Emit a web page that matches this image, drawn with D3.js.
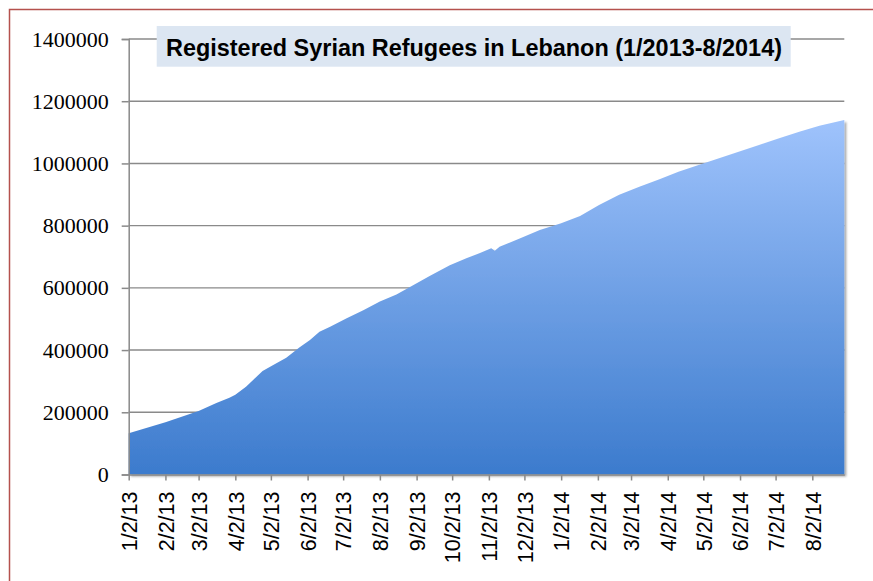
<!DOCTYPE html>
<html>
<head>
<meta charset="utf-8">
<script src="https://cdn.jsdelivr.net/npm/d3@7"></script>
<style>
  html, body { margin: 0; padding: 0; background: #ffffff; }
  svg { display: block; }
</style>
</head>
<body>
<svg id="chart" width="873" height="581"></svg>
<script>
// ---- Data ----
const title = "Registered Syrian Refugees in Lebanon (1/2013-8/2014)";

const dates = [
  "2013-01-02","2013-02-02","2013-03-02","2013-03-17","2013-03-28","2013-04-02",
  "2013-04-11","2013-04-17","2013-04-25","2013-05-04","2013-05-15","2013-05-26",
  "2013-06-04","2013-06-12","2013-06-21","2013-07-05","2013-07-19","2013-08-02",
  "2013-08-16","2013-08-27","2013-09-13","2013-09-30","2013-10-14","2013-10-25",
  "2013-11-04","2013-11-07","2013-11-11","2013-11-28","2013-12-15","2014-01-02",
  "2014-01-18","2014-02-03","2014-02-20","2014-03-09","2014-03-26","2014-04-11",
  "2014-04-28","2014-05-07","2014-05-28","2014-06-18","2014-07-05","2014-07-22",
  "2014-08-08","2014-08-29"
];

const refugees = [
  133000,168000,204000,230000,247000,256000,
  282000,304000,333000,352000,375000,408000,
  432000,459000,475000,502000,528000,556000,
  579000,602000,638000,673000,695000,711000,
  727000,719000,732000,759000,786000,808000,
  831000,866000,899000,925000,949000,973000,
  995000,1006000,1033000,1059000,1081000,1102000,
  1121000,1140000
];

const yTicks = [0, 200000, 400000, 600000, 800000, 1000000, 1200000, 1400000];

const xTickLabels = [
  "1/2/13","2/2/13","3/2/13","4/2/13","5/2/13","6/2/13","7/2/13","8/2/13",
  "9/2/13","10/2/13","11/2/13","12/2/13","1/2/14","2/2/14","3/2/14","4/2/14",
  "5/2/14","6/2/14","7/2/14","8/2/14"
];

// ---- Drawing ----
const parseISO = d3.timeParse("%Y-%m-%d");
const parseLabel = d3.timeParse("%m/%d/%y");
const data = dates.map((d, i) => ({ date: parseISO(d), value: refugees[i] }));
const tickDates = xTickLabels.map(parseLabel);

const svg = d3.select("#chart");

const plot = { left: 128.7, right: 844.3, top: 39, bottom: 474.5 };

const x = d3.scaleTime()
  .domain([data[0].date, data[data.length - 1].date])
  .range([plot.left, plot.right]);

const y = d3.scaleLinear()
  .domain([0, 1400000])
  .range([plot.bottom, plot.top]);

// outer frame (only top and left edges fall inside the picture)
svg.append("rect")
  .attr("x", 9.5).attr("y", 9.5)
  .attr("width", 900).attr("height", 600)
  .attr("fill", "none")
  .attr("stroke", "#b5514d")
  .attr("stroke-width", 1.5);

const defs = svg.append("defs");
const grad = defs.append("linearGradient")
  .attr("id", "areaGrad")
  .attr("gradientUnits", "userSpaceOnUse")
  .attr("x1", 0).attr("x2", 0)
  .attr("y1", y(0)).attr("y2", y(d3.max(refugees)));
grad.append("stop").attr("offset", "0%").attr("stop-color", "#3c7bcd");
grad.append("stop").attr("offset", "100%").attr("stop-color", "#9fc3fc");

const shadow = defs.append("filter").attr("id", "shadow")
  .attr("x", "-5%").attr("y", "-5%").attr("width", "110%").attr("height", "110%");
shadow.append("feDropShadow")
  .attr("dx", 2).attr("dy", 2).attr("stdDeviation", 1.2)
  .attr("flood-color", "#000").attr("flood-opacity", 0.35);

// gridlines
svg.append("g")
  .selectAll("line")
  .data(yTicks.filter(t => t > 0))
  .join("line")
  .attr("x1", plot.left).attr("x2", plot.right)
  .attr("y1", d => y(d)).attr("y2", d => y(d))
  .attr("stroke", "#8a8a8a")
  .attr("stroke-width", 1.4);

// area
const area = d3.area()
  .x(d => x(d.date))
  .y0(y(0))
  .y1(d => y(d.value));

svg.append("path")
  .datum(data)
  .attr("d", area)
  .attr("fill", "url(#areaGrad)")
  .attr("filter", "url(#shadow)");

// y axis
const yAxis = d3.axisLeft(y)
  .tickValues(yTicks)
  .tickFormat(d3.format("d"))
  .tickSize(7)
  .tickPadding(13);

const gy = svg.append("g")
  .attr("transform", `translate(${plot.left},0)`)
  .call(yAxis);
gy.select(".domain").attr("stroke", "#8a8a8a").attr("stroke-width", 1.5);
gy.selectAll(".tick line").attr("stroke", "#8a8a8a").attr("stroke-width", 1.5);
gy.selectAll(".tick text")
  .attr("font-family", "'Liberation Serif', 'DejaVu Serif', serif")
  .attr("font-size", "22px")
  .attr("fill", "#000");

// x axis
const xAxis = d3.axisBottom(x)
  .tickValues(tickDates)
  .tickFormat((d, i) => xTickLabels[i])
  .tickSizeInner(6)
  .tickSizeOuter(0);

const gx = svg.append("g")
  .attr("transform", `translate(0,${plot.bottom})`)
  .call(xAxis);
gx.select(".domain").attr("stroke", "#8a8a8a").attr("stroke-width", 1.5);
gx.selectAll(".tick line").attr("stroke", "#8a8a8a").attr("stroke-width", 1.5);
gx.selectAll(".tick text")
  .attr("font-family", "'Liberation Sans', Arial, sans-serif")
  .attr("font-size", "21.5px")
  .attr("fill", "#000")
  .attr("text-anchor", "end")
  .attr("transform", "rotate(-90)")
  .attr("x", -17)
  .attr("y", 0)
  .attr("dy", "0.36em");

// title box
svg.append("rect")
  .attr("x", 156.7).attr("y", 26)
  .attr("width", 634).attr("height", 40.7)
  .attr("fill", "#dce6f2");

svg.append("text")
  .attr("x", 166).attr("y", 55.5)
  .attr("font-family", "'Liberation Sans', Arial, sans-serif")
  .attr("font-weight", "bold")
  .attr("font-size", "23px")
  .attr("fill", "#000")
  .attr("textLength", 616)
  .attr("lengthAdjust", "spacingAndGlyphs")
  .text(title);
</script>
</body>
</html>
